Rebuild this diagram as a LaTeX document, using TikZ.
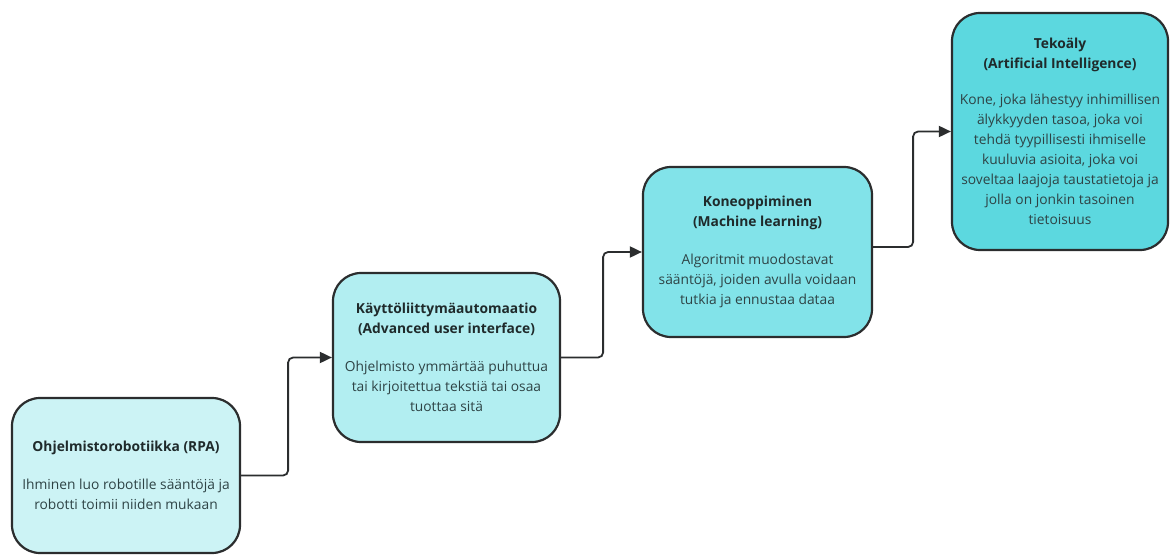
\documentclass[tikz,border=0pt]{standalone}
\usepackage{fontspec}
\setmainfont{Open Sans}
\usetikzlibrary{arrows.meta}
\definecolor{edgecol}{HTML}{2B2D2E}
\definecolor{titlecol}{HTML}{1F2A2B}
\definecolor{bodycol}{HTML}{2E4345}
\definecolor{fillA}{HTML}{CCF3F5}
\definecolor{fillB}{HTML}{B2EEF1}
\definecolor{fillC}{HTML}{82E3E9}
\definecolor{fillD}{HTML}{5CD8DF}
\tikzset{
  stage/.style={draw=edgecol, line width=2.2pt, rounded corners=28pt,
    inner sep=0pt, align=center, text=bodycol,
    font=\fontsize{13.8}{20}\selectfont},
  conn/.style={draw=edgecol, line width=1.8pt, rounded corners=5pt,
    -{Triangle[length=12pt,width=11pt]}},
}
\newcommand{\stagetitle}[1]{{\bfseries\color{titlecol}#1}}
\begin{document}
\begin{tikzpicture}[x=1pt,y=-1pt]
\useasboundingbox (0,0) rectangle (1170,556);

% four stages, rising from left to right
\node[stage, fill=fillA, minimum width=228pt, minimum height=155pt]
  (rpa) at (126,475.5)
  {\stagetitle{Ohjelmistorobotiikka (RPA)}\\[18pt]
   Ihminen luo robotille sääntöjä ja\\
   robotti toimii niiden mukaan};

\node[stage, fill=fillB, minimum width=227pt, minimum height=169pt]
  (aui) at (446.5,357.5)
  {\stagetitle{Käyttöliittymäautomaatio}\\
   \stagetitle{(Advanced user interface)}\\[18pt]
   Ohjelmisto ymmärtää puhuttua\\
   tai kirjoitettua tekstiä tai osaa\\
   tuottaa sitä};

\node[stage, fill=fillC, minimum width=229pt, minimum height=170pt]
  (ml) at (757.5,252)
  {\stagetitle{Koneoppiminen}\\
   \stagetitle{(Machine learning)}\\[18pt]
   Algoritmit muodostavat\\
   sääntöjä, joiden avulla voidaan\\
   tutkia ja ennustaa dataa};

\node[stage, fill=fillD, minimum width=216pt, minimum height=237pt]
  (ai) at (1060,131.5)
  {\stagetitle{Tekoäly}\\
   \stagetitle{(Artificial Intelligence)}\\[16pt]
   Kone, joka lähestyy inhimillisen\\
   älykkyyden tasoa, joka voi\\
   tehdä tyypillisesti ihmiselle\\
   kuuluvia asioita, joka voi\\
   soveltaa laajoja taustatietoja ja\\
   jolla on jonkin tasoinen\\
   tietoisuus};

% stepped connectors
\draw[conn] (rpa.east) -- ++(47,0) |- (aui.west);
\draw[conn] (aui.east) -- ++(42,0) |- (ml.west);
\draw[conn] ([yshift=5pt]ml.east) -- ++(40,0) |- (ai.west);
\end{tikzpicture}
\end{document}
